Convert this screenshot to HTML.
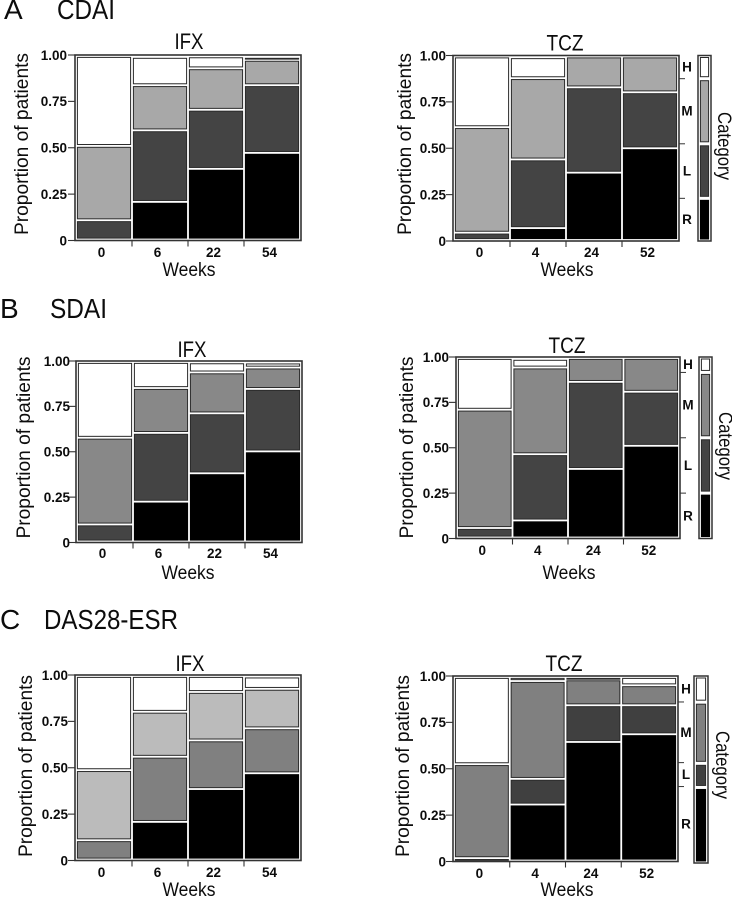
<!DOCTYPE html>
<html lang="en">
<head>
<meta charset="utf-8">
<title>Disease activity mosaic plots</title>
<style>
html,body{margin:0;padding:0;background:#fff;width:732px;height:897px;overflow:hidden}
svg{display:block}
text{font-family:"Liberation Sans",sans-serif;fill:#0c0c0c}
.h{font-size:28px}
.t{font-size:22px}
.ax{font-size:19.5px}
.tick{font-size:13.5px;font-weight:bold}
</style>
</head>
<body>
<svg id="figure" xmlns="http://www.w3.org/2000/svg" width="732" height="897" viewBox="0 0 732 897">
  <rect width="732" height="897" fill="#fff"/>

  <text class="h" x="4" y="19">A</text>
  <text class="h" x="57" y="19" textLength="58" lengthAdjust="spacingAndGlyphs">CDAI</text>
  <text class="h" x="0" y="318">B</text>
  <text class="h" x="50" y="318" textLength="57" lengthAdjust="spacingAndGlyphs">SDAI</text>
  <text class="h" x="0" y="629">C</text>
  <text class="h" x="44" y="629" textLength="134" lengthAdjust="spacingAndGlyphs">DAS28-ESR</text>

  <text class="t" x="189" y="49" text-anchor="middle" textLength="29" lengthAdjust="spacingAndGlyphs">IFX</text>
  <text class="t" x="565" y="50.5" text-anchor="middle" textLength="37" lengthAdjust="spacingAndGlyphs">TCZ</text>
  <text class="t" x="192" y="357" text-anchor="middle" textLength="29" lengthAdjust="spacingAndGlyphs">IFX</text>
  <text class="t" x="567" y="353" text-anchor="middle" textLength="37" lengthAdjust="spacingAndGlyphs">TCZ</text>
  <text class="t" x="190" y="671" text-anchor="middle" textLength="29" lengthAdjust="spacingAndGlyphs">IFX</text>
  <text class="t" x="564" y="671" text-anchor="middle" textLength="37" lengthAdjust="spacingAndGlyphs">TCZ</text>

  <text class="ax" transform="translate(28,144) rotate(-90)" text-anchor="middle" textLength="182" lengthAdjust="spacingAndGlyphs">Proportion of patients</text>
  <text class="ax" transform="translate(411,144) rotate(-90)" text-anchor="middle" textLength="182" lengthAdjust="spacingAndGlyphs">Proportion of patients</text>
  <text class="ax" transform="translate(30,447.5) rotate(-90)" text-anchor="middle" textLength="182" lengthAdjust="spacingAndGlyphs">Proportion of patients</text>
  <text class="ax" transform="translate(413,447.5) rotate(-90)" text-anchor="middle" textLength="182" lengthAdjust="spacingAndGlyphs">Proportion of patients</text>
  <text class="ax" transform="translate(32,766) rotate(-90)" text-anchor="middle" textLength="182" lengthAdjust="spacingAndGlyphs">Proportion of patients</text>
  <text class="ax" transform="translate(409,766) rotate(-90)" text-anchor="middle" textLength="182" lengthAdjust="spacingAndGlyphs">Proportion of patients</text>

  <text class="ax" x="189" y="276" text-anchor="middle" textLength="53" lengthAdjust="spacingAndGlyphs">Weeks</text>
  <text class="ax" x="567" y="276" text-anchor="middle" textLength="53" lengthAdjust="spacingAndGlyphs">Weeks</text>
  <text class="ax" x="188" y="579" text-anchor="middle" textLength="53" lengthAdjust="spacingAndGlyphs">Weeks</text>
  <text class="ax" x="569" y="579" text-anchor="middle" textLength="53" lengthAdjust="spacingAndGlyphs">Weeks</text>
  <text class="ax" x="189" y="896" text-anchor="middle" textLength="53" lengthAdjust="spacingAndGlyphs">Weeks</text>
  <text class="ax" x="567" y="896" text-anchor="middle" textLength="53" lengthAdjust="spacingAndGlyphs">Weeks</text>

  <text class="ax" transform="translate(718,146) rotate(90)" text-anchor="middle" textLength="68" lengthAdjust="spacingAndGlyphs">Category</text>
  <text class="ax" transform="translate(719,446) rotate(90)" text-anchor="middle" textLength="68" lengthAdjust="spacingAndGlyphs">Category</text>
  <text class="ax" transform="translate(716,765) rotate(90)" text-anchor="middle" textLength="68" lengthAdjust="spacingAndGlyphs">Category</text>
</svg>

<script>
// Shared axis data
const categoryNames = ['R', 'L', 'M', 'H'];
const yTickValues = [0, 0.25, 0.5, 0.75, 1];
const yTickLabels = ['0', '0.25', '0.50', '0.75', '1.00'];
const weeksIfx = ['0', '6', '22', '54'];
const weeksTcz = ['0', '4', '24', '52'];

// CDAI - IFX
const cdaiIfxR = [0, 0.205, 0.385, 0.472];
const cdaiIfxL = [0.105, 0.39, 0.322, 0.369];
const cdaiIfxM = [0.405, 0.246, 0.226, 0.138];
const cdaiIfxH = [0.49, 0.154, 0.065, 0.016];
// CDAI - TCZ
const cdaiTczR = [0, 0.065, 0.367, 0.5];
const cdaiTczL = [0.04, 0.374, 0.465, 0.305];
const cdaiTczM = [0.575, 0.443, 0.168, 0.195];
const cdaiTczH = [0.385, 0.114, 0, 0];
const cdaiLegend = [0.23, 0.294, 0.351, 0.125];

// SDAI - IFX
const sdaiIfxR = [0, 0.222, 0.38, 0.502];
const sdaiIfxL = [0.095, 0.383, 0.334, 0.348];
const sdaiIfxM = [0.483, 0.25, 0.228, 0.119];
const sdaiIfxH = [0.422, 0.145, 0.056, 0.028];
// SDAI - TCZ
const sdaiTczR = [0, 0.095, 0.382, 0.511];
const sdaiTczL = [0.053, 0.369, 0.485, 0.301];
const sdaiTczM = [0.659, 0.483, 0.133, 0.188];
const sdaiTczH = [0.288, 0.048, 0, 0];
const sdaiLegend = [0.25, 0.305, 0.36, 0.085];

// DAS28-ESR - IFX
const dasIfxR = [0, 0.205, 0.384, 0.47];
const dasIfxL = [0.105, 0.355, 0.265, 0.245];
const dasIfxM = [0.382, 0.245, 0.264, 0.215];
const dasIfxH = [0.513, 0.195, 0.087, 0.067];
// DAS28-ESR - TCZ
const dasTczR = [0, 0.305, 0.646, 0.688];
const dasTczL = [0.013, 0.14, 0.2, 0.158];
const dasTczM = [0.512, 0.533, 0.141, 0.109];
const dasTczH = [0.475, 0.022, 0.013, 0.045];
const dasLegend = [0.404, 0.129, 0.327, 0.14];

const SVG_NS = 'http://www.w3.org/2000/svg';
const figure = document.getElementById('figure');

function make(tag, attrs, parent) {
  const el = document.createElementNS(SVG_NS, tag);
  Object.keys(attrs).forEach(function (k) { el.setAttribute(k, attrs[k]); });
  parent.appendChild(el);
  return el;
}

function linearY(box) {
  return function (v) { return box.bottom - v * (box.bottom - box.top); };
}

function drawCell(parent, x, w, yTop, yBottom, fill, label) {
  const h = Math.max(yBottom - yTop - 2.8, 0.8);
  const cell = make('rect', {
    x: x + 1.4, y: yTop + 1.4, width: w - 2.8, height: h,
    fill: fill, stroke: fill === '#000' ? '#000' : '#2a2a2a', 'stroke-width': 1
  }, parent);
  
  
}

function drawPanel(p) {
  const g = make('g', {}, figure);
  
  
  const y = linearY(p.box);

  const frame = make('rect', {
    x: p.box.left, y: p.box.top,
    width: p.box.right - p.box.left, height: p.box.bottom - p.box.top,
    fill: '#fff', stroke: '#333', 'stroke-width': 1.6
  }, g);
  
  

  const innerLeft = p.box.left + 1;
  const bandW = (p.box.right - p.box.left - 2) / p.weeks.length;
  const inner = { top: p.box.top + 1, bottom: p.box.bottom - 1 };
  const yi = linearY(inner);

  p.weeks.forEach(function (week, c) {
    const x = innerLeft + c * bandW;
    let cum = 0;
    p.series.forEach(function (values, s) {
      const v = values[c];
      if (v > 0) {
        drawCell(g, x, bandW, yi(cum + v), yi(cum), p.colors[s],
          p.name + '-week-' + week + '-' + categoryNames[s].toLowerCase());
      }
      cum += v;
    });

    const label = make('text', {
      class: 'tick', x: x + bandW / 2 - 2.5, y: p.xLabelY, 'text-anchor': 'middle'
    }, g);
    label.textContent = week;
    
    

    if (c > 0) {
      const tick = make('line', {
        x1: x, x2: x, y1: p.box.bottom, y2: p.box.bottom + 6, stroke: '#333', 'stroke-width': 1.1
      }, g);
      
      
    }
  });

  yTickValues.forEach(function (v, i) {
    const tick = make('line', {
      x1: p.box.left - 7, x2: p.box.left, y1: y(v), y2: y(v), stroke: '#333', 'stroke-width': 1.1
    }, g);
    
    

    const label = make('text', {
      class: 'tick', x: p.yLabelRight, y: y(v) + 4.8, 'text-anchor': 'end'
    }, g);
    label.textContent = yTickLabels[i];
    
    
  });

  if (p.legend) drawLegend(p, g, y);
}

function drawLegend(p, g, y) {
  const lb = p.legendBox;
  const ly = linearY(lb);
  const frame = make('rect', {
    x: lb.left, y: lb.top, width: lb.right - lb.left, height: lb.bottom - lb.top,
    fill: '#fff', stroke: '#333', 'stroke-width': 1.5
  }, g);
  
  

  let cum = 0;
  p.legend.forEach(function (v, s) {
    drawCell(g, lb.left + 1, lb.right - lb.left - 2, ly(cum + v) + 0.6, ly(cum) - 0.6, p.colors[s],
      p.name + '-legend-swatch-' + categoryNames[s].toLowerCase());

    const letter = make('text', {
      class: 'tick', x: p.box.right + 8, y: y(cum + v / 2) + 4.5, 'text-anchor': 'middle'
    }, g);
    letter.textContent = categoryNames[s];
    
    

    cum += v;
    if (s < p.legend.length - 1) {
      const tick = make('line', {
        x1: p.box.right, x2: p.box.right + 6, y1: y(cum), y2: y(cum), stroke: '#333', 'stroke-width': 1
      }, g);
      
      
    }
  });
}

const shadesA = ['#000', '#444', '#a8a8a8', '#fff'];
const shadesB = ['#000', '#444', '#888', '#fff'];
const shadesCIfx = ['#000', '#808080', '#bbb', '#fff'];
const shadesCTcz = ['#000', '#404040', '#808080', '#fff'];

drawPanel({
  name: 'cdai-ifx', weeks: weeksIfx, series: [cdaiIfxR, cdaiIfxL, cdaiIfxM, cdaiIfxH], colors: shadesA,
  box: { left: 75, right: 301, top: 55, bottom: 240.5 }, xLabelY: 257, yLabelRight: 67
});
drawPanel({
  name: 'cdai-tcz', weeks: weeksTcz, series: [cdaiTczR, cdaiTczL, cdaiTczM, cdaiTczH], colors: shadesA,
  box: { left: 453, right: 679, top: 55.5, bottom: 241 }, xLabelY: 257, yLabelRight: 446,
  legend: cdaiLegend, legendBox: { left: 698, right: 711, top: 55.5, bottom: 241 }
});
drawPanel({
  name: 'sdai-ifx', weeks: weeksIfx, series: [sdaiIfxR, sdaiIfxL, sdaiIfxM, sdaiIfxH], colors: shadesB,
  box: { left: 76, right: 302, top: 361, bottom: 542.5 }, xLabelY: 558, yLabelRight: 70
});
drawPanel({
  name: 'sdai-tcz', weeks: weeksTcz, series: [sdaiTczR, sdaiTczL, sdaiTczM, sdaiTczH], colors: shadesB,
  box: { left: 456, right: 680, top: 357, bottom: 538.5 }, xLabelY: 555, yLabelRight: 449,
  legend: sdaiLegend, legendBox: { left: 699, right: 712, top: 357, bottom: 538.5 }
});
drawPanel({
  name: 'das-ifx', weeks: weeksIfx, series: [dasIfxR, dasIfxL, dasIfxM, dasIfxH], colors: shadesCIfx,
  box: { left: 75, right: 301, top: 675, bottom: 860.5 }, xLabelY: 877, yLabelRight: 68
});
drawPanel({
  name: 'das-tcz', weeks: weeksTcz, series: [dasTczR, dasTczL, dasTczM, dasTczH], colors: shadesCTcz,
  box: { left: 453, right: 678, top: 676, bottom: 861.5 }, xLabelY: 878, yLabelRight: 446,
  legend: dasLegend, legendBox: { left: 694, right: 708, top: 676, bottom: 863 }
});
</script>
</body>
</html>
